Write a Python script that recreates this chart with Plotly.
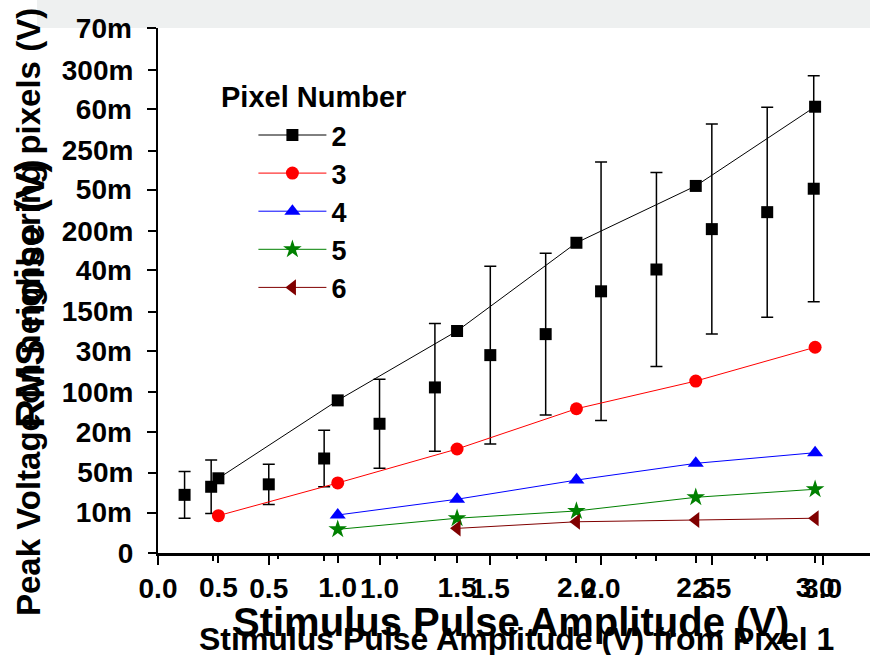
import plotly.graph_objects as go

# ---------------- data ----------------
# Chart A: RMS noise vs stimulus amplitude (squares with error bars)
rms_x = [0.12, 0.24, 0.5, 0.75, 1.0, 1.25, 1.5, 1.75, 2.0, 2.25, 2.5, 2.75, 2.96]
rms_y = [0.0122, 0.0132, 0.0135, 0.0167, 0.0210, 0.0255, 0.0295, 0.0321,
         0.0374, 0.0401, 0.0451, 0.0472, 0.0501]
rms_err = [0.0029, 0.0033, 0.0025, 0.0035, 0.0055, 0.0079, 0.0110, 0.0100,
           0.0160, 0.0120, 0.0130, 0.0130, 0.0140]

# Chart B: peak voltage on neighbouring pixels vs stimulus amplitude from pixel 1
pulse_all = [0.5, 1.0, 1.5, 2.0, 2.5, 3.0]
pulse_from1 = [1.0, 1.5, 2.0, 2.5, 3.0]
pulse_from15 = [1.5, 2.0, 2.5, 3.0]
pixel2 = [0.0464, 0.0948, 0.1379, 0.1927, 0.2280, 0.2772]
pixel3 = [0.0232, 0.0435, 0.0646, 0.0896, 0.1068, 0.1278]
pixel4 = [0.0236, 0.0334, 0.0453, 0.0557, 0.0623]
pixel5 = [0.0147, 0.0216, 0.0261, 0.0346, 0.0396]
pixel6 = [0.0153, 0.0194, 0.0205, 0.0216]

rms_yticks = [0.01, 0.02, 0.03, 0.04, 0.05, 0.06, 0.07]
peak_yticks = [0, 0.05, 0.10, 0.15, 0.20, 0.25, 0.30]
a_xticks = [0.0, 0.5, 1.0, 1.5, 2.0, 2.5, 3.0]
a_xminor = [0.25, 0.75, 1.25, 1.75, 2.25, 2.75]
b_xticks = [0.5, 1.0, 1.5, 2.0, 2.5, 3.0]
b_xminor = [0.75, 1.25, 1.75, 2.25, 2.75]

FONT = "Liberation Sans, Arial, sans-serif"
tickfont = dict(family=FONT, size=28, color="black", weight="bold")

fig = go.Figure()

fig.add_trace(go.Scatter(
    x=rms_x, y=rms_y, mode="markers", xaxis="x", yaxis="y",
    marker=dict(symbol="square", size=12, color="black"),
    error_y=dict(type="data", array=rms_err, color="black", thickness=1.5, width=6),
    showlegend=False, hoverinfo="skip"))

series = [
    ("2", pulse_all, pixel2, "black", "square", 12),
    ("3", pulse_all, pixel3, "red", "circle", 13),
    ("4", pulse_from1, pixel4, "blue", "triangle-up", 14),
    ("5", pulse_from1, pixel5, "green", "star", 14),
    ("6", pulse_from15, pixel6, "#800000", "triangle-left", 14),
]
for name, xs, ys, col, sym, sz in series:
    fig.add_trace(go.Scatter(
        x=xs, y=ys, mode="lines+markers", name=name, xaxis="x2", yaxis="y2",
        line=dict(color=col, width=1),
        marker=dict(symbol=sym, size=sz, color=col),
        hoverinfo="skip"))

common = dict(showgrid=False, zeroline=False, color="black", automargin=False,
              tickfont=tickfont, tickwidth=2)

fig.update_layout(
    width=870, height=655,
    margin=dict(l=158, r=0, t=28, b=102, autoexpand=False),
    paper_bgcolor="white", plot_bgcolor="white",
    xaxis=dict(range=[0, 3.214], anchor="y", side="bottom",
               showline=True, linewidth=2.5, linecolor="black",
               ticks="outside", ticklen=9, tickvals=a_xticks, tickformat=".1f",
               minor=dict(tickvals=a_xminor, ticks="outside", ticklen=5, tickwidth=2,
                          tickcolor="black"),
               ticklabelstandoff=0, **common),
    xaxis2=dict(range=[0.247, 3.23], overlaying="x", anchor="y", side="bottom",
                showline=False, ticks="outside", ticklen=9, tickvals=b_xticks,
                tickformat=".1f",
                minor=dict(tickvals=b_xminor, ticks="outside", ticklen=5, tickwidth=2,
                           tickcolor="black"),
                ticklabelstandoff=0, **common),
    xaxis3=dict(range=[0, 3.214], overlaying="x", anchor="y", side="top",
                showline=True, linewidth=2.5, linecolor="black",
                ticks="inside", ticklen=8, tickvals=a_xticks, showticklabels=False,
                minor=dict(tickvals=a_xminor, ticks="inside", ticklen=5, tickwidth=2,
                           tickcolor="black"),
                **common),
    xaxis4=dict(range=[0.247, 3.23], overlaying="x", anchor="y", side="top",
                showline=False, ticks="inside", ticklen=10, tickvals=b_xticks,
                showticklabels=False,
                minor=dict(tickvals=b_xminor, ticks="inside", ticklen=5, tickwidth=2,
                           tickcolor="black"),
                **common),
    yaxis=dict(range=[0.005, 0.07], anchor="x", side="left",
               showline=True, linewidth=2.5, linecolor="black",
               ticks="outside", ticklen=9, tickvals=rms_yticks, tickformat="~s",
               ticklabelstandoff=9, **common),
    yaxis2=dict(range=[0, 0.3261], overlaying="y", anchor="x", side="left",
                showline=False, ticks="outside", ticklen=9, tickvals=peak_yticks,
                tickformat="~s", ticklabelstandoff=9, **common),
    yaxis3=dict(range=[0.005, 0.07], overlaying="y", anchor="x", side="right",
                showline=False, ticks="inside", ticklen=4, tickvals=rms_yticks,
                showticklabels=False, **common),
    yaxis4=dict(range=[0, 0.3261], overlaying="y", anchor="x", side="right",
                showline=False, ticks="inside", ticklen=8, tickvals=peak_yticks,
                showticklabels=False, **common),
    legend=dict(x=0.134, y=0.842, xanchor="left", yanchor="top",
                bgcolor="rgba(0,0,0,0)", borderwidth=0,
                font=dict(family=FONT, size=27, color="black", weight="bold"),
                itemwidth=68, tracegroupgap=0),
    hovermode=False,
    shapes=[dict(type="rect", xref="paper", yref="paper", x0=-0.17, x1=1.0,
                 y0=1.0, y1=1.06, fillcolor="#eef0f0", line=dict(width=0),
                 layer="below")],
)

ann_font_big = dict(family=FONT, size=40, color="black", weight="bold")
ann_font_small = dict(family=FONT, size=32, color="black", weight="bold")
center = dict(xref="paper", yref="paper", xanchor="center", yanchor="middle",
              showarrow=False)
fig.add_annotation(text="Pixel Number", x=0.2177, y=0.8686,
                   font=dict(family=FONT, size=29, color="black", weight="bold"), **center)
fig.add_annotation(text="Peak Voltage on neighboring pixels (V)",
                   x=-0.1826, y=0.459, textangle=-90,
                   font=dict(family=FONT, size=33, color="black", weight="bold"), **center)
fig.add_annotation(text="RMS noise (V)",
                   x=-0.18, y=0.495, textangle=-90, font=ann_font_big, **center)
fig.add_annotation(text="Stimulus Pulse Amplitude (V)",
                   x=0.496, y=-0.1314, font=ann_font_big, **center)
fig.add_annotation(text="Stimulus Pulse Amplitude (V) from Pixel 1",
                   x=0.503, y=-0.1638, font=ann_font_small, **center)

fig.write_html("out.html",
               config={"displayModeBar": False, "staticPlot": True},
               post_script="document.body.style.margin='0px';"
                           "document.body.style.overflow='hidden';")
